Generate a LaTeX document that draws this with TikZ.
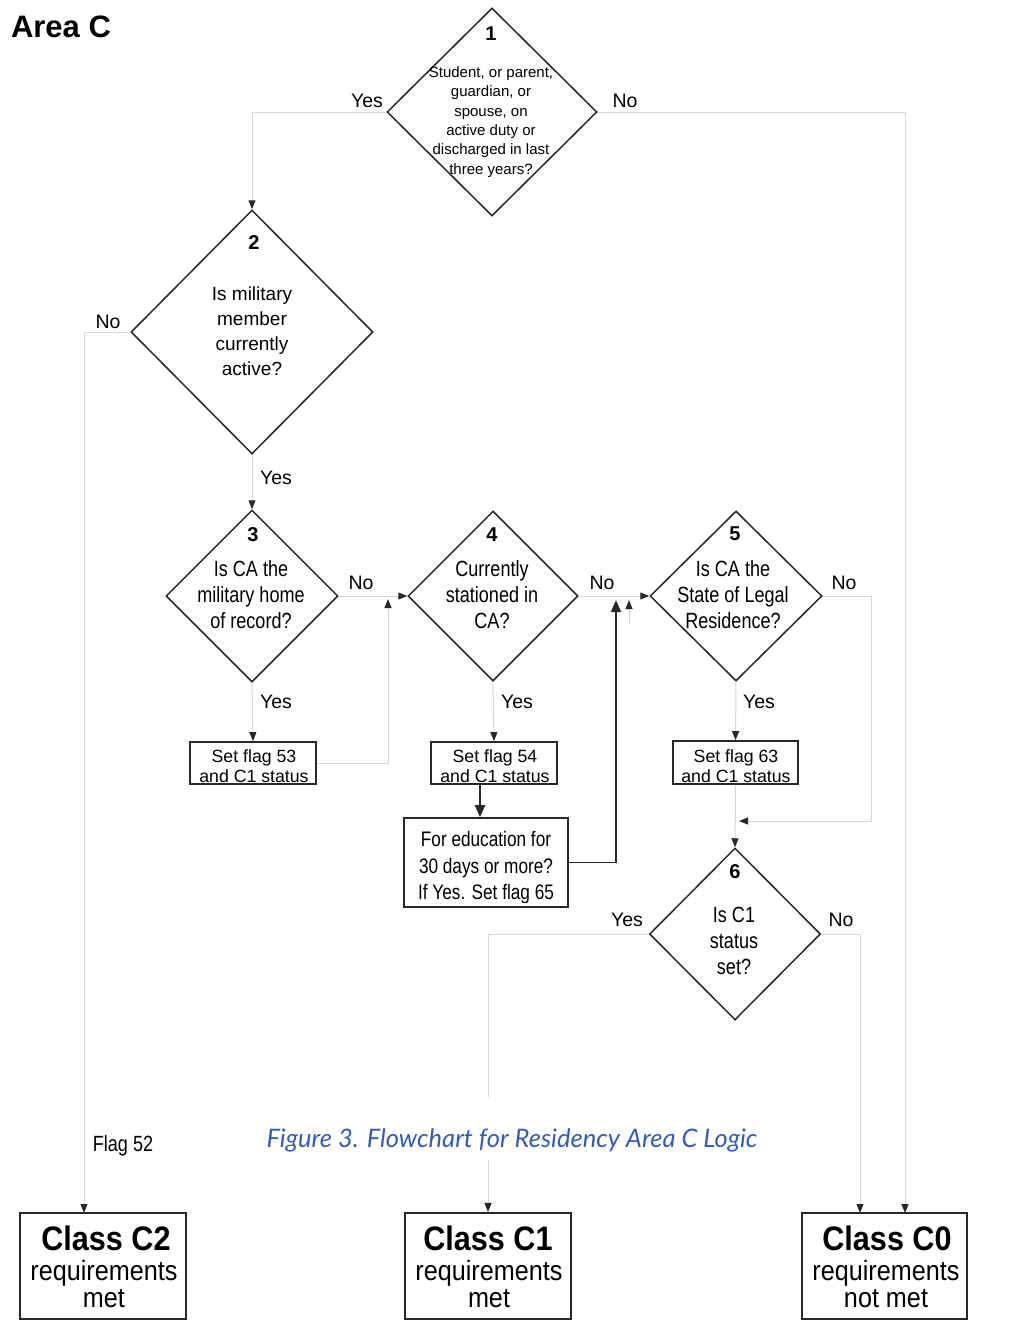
\documentclass[tikz,border=0pt]{standalone}
\usepackage{fontspec}
\setmainfont{Liberation Sans}
\newfontfamily\narrowfont[FakeStretch=0.82]{Liberation Sans}
\newfontfamily\classfont[FakeStretch=0.9]{Liberation Sans}
\newfontfamily\capfont{Lato}
\usetikzlibrary{shapes.geometric,arrows.meta,calc}
\definecolor{capblue}{RGB}{52,92,182}
\definecolor{edge}{RGB}{40,40,40}
\definecolor{faint}{RGB}{214,214,214}
\tikzset{
  dia/.style={draw=edge, line width=1.5pt, shape=diamond, inner sep=0pt},
  box/.style={draw=edge, line width=1.7pt, inner sep=0pt},
  cbox/.style={draw=edge, line width=2.2pt, inner sep=0pt, minimum width=166pt, minimum height=106pt},
  conn/.style={draw=faint, line width=1pt, -{Triangle[length=9pt,width=7pt,color=edge]}},
  connplain/.style={draw=faint, line width=1pt},
  dconn/.style={draw=edge, line width=1.8pt, -{Triangle[length=12pt,width=10pt]}},
  num/.style={inner sep=0pt, font=\fontsize{20}{22}\selectfont\bfseries},
  tone/.style={inner sep=0pt, align=center, font=\fontsize{15}{19.4}\selectfont},
  ttwo/.style={inner sep=0pt, align=center, font=\fontsize{19}{25}\selectfont},
  tnar/.style={inner sep=0pt, align=center, font=\narrowfont\fontsize{22}{26}\selectfont},
  tbox/.style={inner sep=0pt, align=center, font=\fontsize{17.7}{20}\selectfont},
  lbl/.style={inner sep=0pt, font=\fontsize{19.5}{22}\selectfont},
  ctitle/.style={inner sep=0pt, font=\classfont\fontsize{34}{36}\selectfont\bfseries},
  ctext/.style={inner sep=0pt, align=center, font=\classfont\fontsize{28}{27}\selectfont},
}
\begin{document}
\begin{tikzpicture}[x=1pt,y=-1pt]
\useasboundingbox (0,0) rectangle (1013,1330);

% title
\node[inner sep=0pt, font=\fontsize{31}{32}\selectfont\bfseries] (title) at (61,27) {Area C};

% diamonds
\node[dia, minimum width=210pt, minimum height=208pt] (d1) at (492,112) {};
\node[num] (n1) at (491,34) {1};
\node[tone] (q1) at (491,122) {Student, or parent,\\guardian, or\\spouse, on\\active duty or\\discharged in last\\three years?};

\node[dia, minimum width=242pt, minimum height=244pt] (d2) at (252,332) {};
\node[num] (n2) at (254,243) {2};
\node[ttwo] (q2) at (252,331) {Is military\\member\\currently\\active?};

\node[dia, minimum width=172pt, minimum height=172pt] (d3) at (252,596) {};
\node[num] (n3) at (253,535) {3};
\node[tnar] (q3) at (251,595) {Is CA the\\military home\\of record?};

\node[dia, minimum width=170pt, minimum height=170pt] (d4) at (493,596) {};
\node[num] (n4) at (492,535) {4};
\node[tnar] (q4) at (492,595) {Currently\\stationed in\\CA?};

\node[dia, minimum width=172pt, minimum height=170pt] (d5) at (736,596) {};
\node[num] (n5) at (735,534) {5};
\node[tnar] (q5) at (733,595) {Is CA the\\State of Legal\\Residence?};

\node[dia, minimum width=171pt, minimum height=172pt] (d6) at (735,934) {};
\node[num] (n6) at (735,872) {6};
\node[tnar] (q6) at (734,941) {Is C1\\status\\set?};

% small boxes
\node[box, minimum width=126pt, minimum height=42pt] (b53) at (253,763) {};
\node[tbox] (s53) at (254,766) {Set flag 53\\and C1 status};
\node[box, minimum width=126pt, minimum height=42pt] (b54) at (494,763) {};
\node[tbox] (s54) at (495,766) {Set flag 54\\and C1 status};
\node[box, minimum width=125pt, minimum height=43pt] (b63) at (735.5,762.5) {};
\node[tbox] (s63) at (736,766) {Set flag 63\\and C1 status};

\begin{scope}
  \clip (404,818) rectangle (568,902);
  \node[tnar, font=\narrowfont\fontsize{21}{26.5}\selectfont] (s65) at (486,868) {For education for\\30 days or more?\\If Yes. Set flag 65};
\end{scope}
\node[box, minimum width=164pt, minimum height=89pt] (b65) at (486,862.5) {};

% class boxes
\node[cbox] (C2) at (103,1266) {};
\node[ctitle] (C2t) at (106,1238) {Class C2};
\node[ctext] (C2r) at (104,1284) {requirements\\met};
\node[cbox] (C1) at (488,1266) {};
\node[ctitle] (C1t) at (488,1238) {Class C1};
\node[ctext] (C1r) at (489,1284) {requirements\\met};
\node[cbox, minimum width=165pt] (C0) at (884.5,1266) {};
\node[ctitle] (C0t) at (887,1238) {Class C0};
\node[ctext] (C0r) at (886,1284) {requirements\\not met};

% labels
\node[lbl] (y1) at (367,101) {Yes};
\node[lbl] (no1) at (625,101) {No};
\node[lbl] (no2) at (108,322) {No};
\node[lbl] (y2) at (276,478) {Yes};
\node[lbl] (no3) at (361,583) {No};
\node[lbl] (y3) at (276,702) {Yes};
\node[lbl] (y4) at (517,702) {Yes};
\node[lbl] (no4) at (602,583) {No};
\node[lbl] (no5) at (844,583) {No};
\node[lbl] (y5) at (759,702) {Yes};
\node[lbl] (y6) at (627,920) {Yes};
\node[lbl] (no6) at (841,920) {No};
\node[inner sep=0pt, font=\narrowfont\fontsize{22}{24}\selectfont] (f52) at (123,1146) {Flag 52};
\node[inner sep=0pt, text=capblue, font=\capfont\itshape\fontsize{25.5}{28}\selectfont] (cap) at (512,1140) {Figure 3. Flowchart for Residency Area C Logic};

% connector points
\coordinate (c0r) at (905,1213);
\coordinate (c0l) at (860,1213);
\coordinate (c2t) at (84,1213);
\coordinate (j53) at (388,599);
\coordinate (x480) at (480,0);
\coordinate (j65) at (616,600);
\coordinate (st1) at (629,624);
\coordinate (st2) at (629,600);
\coordinate (m5) at (871,821);
\coordinate (m6) at (739,821);
\coordinate (g1) at (488,1097);
\coordinate (g2) at (488,1160);

% connectors
\draw[conn] (d1.west) -| (d2.north);
\draw[conn] (d1.east) -| (c0r);
\draw[conn] (d2.west) -| (c2t);
\draw[conn] (d2.south) -- (d3.north);
\draw[conn] (d3.east) -- (d4.west);
\draw[conn] (d3.south) -- (b53.north);
\draw[conn] (b53.east) -| (j53);
\draw[conn] (d4.south) -- (b54.north);
\draw[dconn] (b54.south -| x480) -- (b65.north -| x480);
\draw[dconn] (b65.east) -| (j65);
\draw[conn] (st1) -- (st2);
\draw[conn] (d4.east) -- (d5.west);
\draw[conn] (d5.south) -- (b63.north);
\draw[conn] (b63.south) -- (d6.north);
\draw[conn] (d5.east) -| (m5) -- (m6);
\draw[connplain] (d6.west) -| (g1);
\draw[conn] (g2) -- (C1.north);
\draw[conn] (d6.east) -| (c0l);
\end{tikzpicture}
\end{document}
